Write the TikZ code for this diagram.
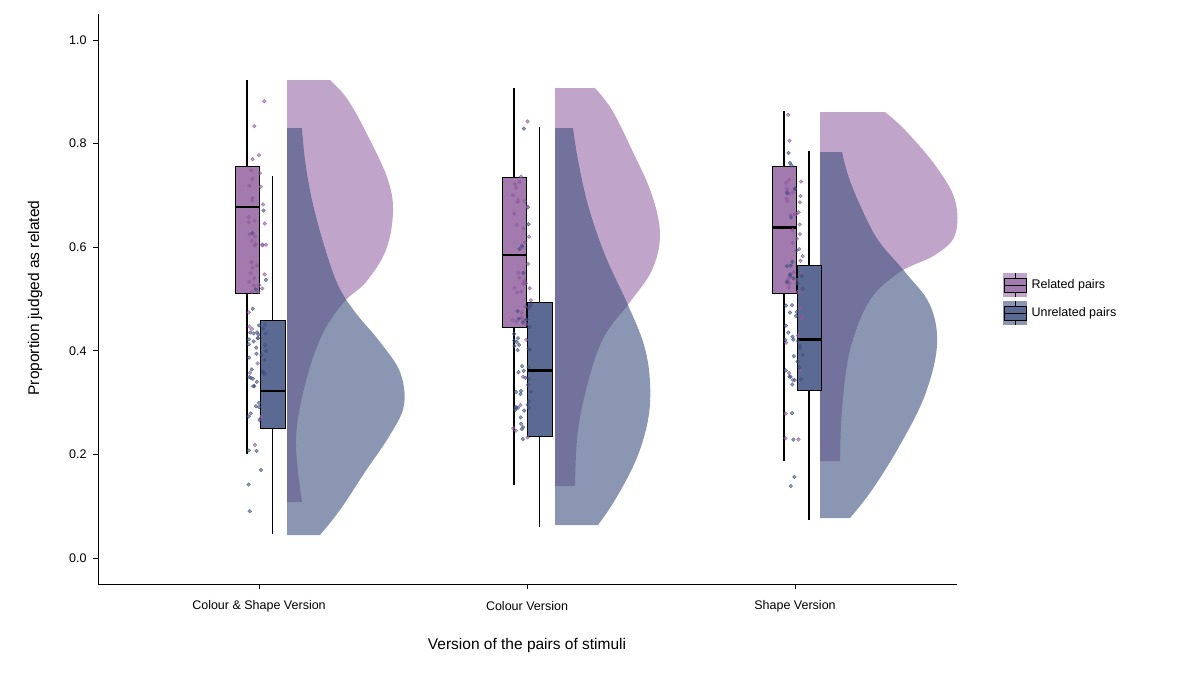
\documentclass[tikz,border=0pt]{standalone}
\usepackage{fontspec}
\setmainfont{Liberation Sans}
\definecolor{relc}{HTML}{8E5A9E}
\definecolor{unrc}{HTML}{3E517F}
\definecolor{relbox}{HTML}{A27AAE}
\definecolor{unrbox}{HTML}{5A6A92}
\tikzset{
  relv/.style={fill=relc,fill opacity=0.55},
  unrv/.style={fill=unrc,fill opacity=0.6},
  rbox/.style={draw=black,line width=1pt,fill=relbox},
  ubox/.style={draw=black,line width=1pt,fill=unrbox},
  wsk/.style={line width=1.2pt},
  med/.style={line width=2.2pt},
  rdot/.style={fill=relc,fill opacity=0.6,draw=relc,draw opacity=0.8,line width=0.3pt},
  udot/.style={fill=unrc,fill opacity=0.6,draw=unrc,draw opacity=0.8,line width=0.3pt},
  lbl/.style={font=\fontsize{12.5}{14}\selectfont},
  ttl/.style={font=\fontsize{15.5}{18}\selectfont},
}
\newcommand{\boxp}[8]{% style x0 x1 lo q1 med q3 hi
  \pgfmathsetmacro\xm{(#2+#3)/2}
  \draw[wsk] (\xm,{558-518*#4}) -- (\xm,{558-518*#8});
  \filldraw[#1] (#2,{558-518*#5}) rectangle (#3,{558-518*#7});
  \draw[med] (#2,{558-518*#6}) -- (#3,{558-518*#6});
}
\newcommand{\jitdots}[7]{% style xc lo q1 q3 hi n
  \foreach \i in {1,...,#7}{
    \pgfmathsetmacro\px{#2+9*rand}
    \pgfmathsetmacro\sel{rnd}
    \pgfmathsetmacro\pv{\sel<0.65 ? #4+(#5-#4)*rnd : #3+(#6-#3)*rnd}
    \path[#1] (\px,{558-518*\pv}) circle (1.9);
  }
}
\begin{document}
\begin{tikzpicture}[x=1pt,y=-1pt]
\useasboundingbox (0,0) rectangle (1200,675);
\pgfmathsetseed{42}
% ---------- violins group 1
\path[relv] (287,80) -- plot[smooth,tension=0.6] coordinates {(330,80)(348,100)(370,140)(388,180)(393,212)(386,250)(366,282)(344,302)(322,335)(305,385)(296,440)(302,502)} -- (287,502) -- cycle;
\path[unrv] (287,535) -- plot[smooth,tension=0.6] coordinates {(320,535)(340,510)(365,472)(390,435)(404,405)(400,372)(380,342)(355,312)(338,285)(324,245)(312,200)(305,160)(302,128)} -- (287,128) -- cycle;
% ---------- group 2
\path[relv] (555,88) -- plot[smooth,tension=0.6] coordinates {(595,88)(612,110)(632,150)(652,195)(660,235)(652,270)(630,302)(605,335)(590,375)(578,430)(575,486)} -- (555,486) -- cycle;
\path[unrv] (555,525) -- plot[smooth,tension=0.6] coordinates {(598,525)(615,500)(636,460)(648,420)(650,382)(644,345)(628,305)(605,255)(588,205)(578,160)(573,128)} -- (555,128) -- cycle;
% ---------- group 3
\path[relv] (820,112) -- plot[smooth,tension=0.6] coordinates {(885,112)(905,130)(935,165)(955,200)(955,235)(935,255)(900,272)(870,300)(850,350)(842,410)(840,461)} -- (820,461) -- cycle;
\path[unrv] (820,518) -- plot[smooth,tension=0.6] coordinates {(850,518)(872,490)(900,445)(925,395)(937,345)(930,305)(905,272)(878,240)(860,205)(848,175)(842,152)} -- (820,152) -- cycle;
% ---------- boxes
\boxp{rbox}{235}{259}{0.20}{0.51}{0.677}{0.755}{0.922}
\boxp{ubox}{260}{285}{0.047}{0.25}{0.323}{0.458}{0.737}
\boxp{rbox}{502}{526}{0.14}{0.445}{0.585}{0.735}{0.907}
\boxp{ubox}{527}{552}{0.06}{0.235}{0.362}{0.493}{0.833}
\boxp{rbox}{772}{796}{0.187}{0.51}{0.638}{0.755}{0.862}
\boxp{ubox}{797}{821}{0.073}{0.323}{0.422}{0.565}{0.785}
% ---------- dots
\jitdots{rdot}{257}{0.20}{0.51}{0.755}{0.922}{45}
\jitdots{udot}{257}{0.047}{0.25}{0.458}{0.737}{45}
\jitdots{rdot}{522}{0.14}{0.445}{0.735}{0.907}{45}
\jitdots{udot}{522}{0.06}{0.235}{0.493}{0.833}{45}
\jitdots{rdot}{794}{0.187}{0.51}{0.755}{0.862}{45}
\jitdots{udot}{794}{0.073}{0.323}{0.565}{0.785}{45}
% ---------- axes
\draw[line width=1pt] (98,14) -- (98,584) -- (957,584);
\foreach \v in {0.0,0.2,0.4,0.6,0.8,1.0}{
  \draw[line width=0.8pt] (93,{558-518*\v}) -- (98,{558-518*\v});
  \node[lbl,anchor=east] at (90,{558-518*\v}) {\v};
}
\foreach \xx/\t in {259/Colour \& Shape Version,527/Colour Version,795/Shape Version}{
  \draw[line width=0.8pt] (\xx,584) -- (\xx,589);
  \node[lbl] at (\xx,606) {\t};
}
\node[ttl] (xt) at (527,645) {Version of the pairs of stimuli};
\node[ttl,rotate=90] (yt) at (35,298) {Proportion judged as related};
% ---------- legend
\fill[relc,opacity=0.55] (1003,273) rectangle (1027,297);
\fill[unrc,opacity=0.6] (1003,301) rectangle (1027,325);
\draw[line width=0.9pt] (1015,273) -- (1015,297);
\filldraw[rbox,line width=0.9pt] (1004,278) rectangle (1026,292);
\draw[line width=0.9pt] (1004,285) -- (1026,285);
\draw[line width=0.9pt] (1015,301) -- (1015,325);
\filldraw[ubox,line width=0.9pt] (1004,306) rectangle (1026,320);
\draw[line width=0.9pt] (1004,313) -- (1026,313);
\node[lbl,anchor=west] (l1) at (1028,285) {Related pairs};
\node[lbl,anchor=west] (l2) at (1028,313) {Unrelated pairs};
\end{tikzpicture}
\end{document}
